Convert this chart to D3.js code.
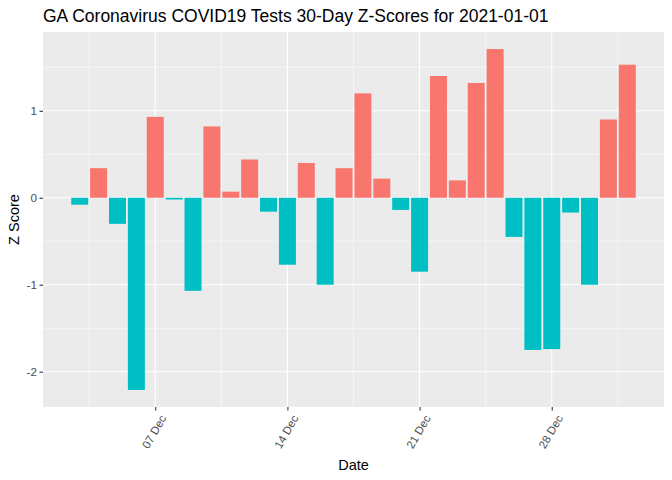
<!DOCTYPE html>
<html>
<head>
<meta charset="utf-8">
<script src="https://cdn.jsdelivr.net/npm/d3@7"></script>
<style>
  body { margin: 0; background: #fff; }
  text { font-family: "Liberation Sans", Arial, sans-serif; }
</style>
</head>
<body>
<script>
// one bar per day, 03 Dec 2020 .. 01 Jan 2021
var dates = ['2020-12-03','2020-12-04','2020-12-05','2020-12-06','2020-12-07','2020-12-08',
  '2020-12-09','2020-12-10','2020-12-11','2020-12-12','2020-12-13','2020-12-14','2020-12-15',
  '2020-12-16','2020-12-17','2020-12-18','2020-12-19','2020-12-20','2020-12-21','2020-12-22',
  '2020-12-23','2020-12-24','2020-12-25','2020-12-26','2020-12-27','2020-12-28','2020-12-29',
  '2020-12-30','2020-12-31','2021-01-01'];
var zScores = [-0.08, 0.34, -0.30, -2.21, 0.93, -0.02, -1.07, 0.82, 0.07, 0.44, -0.16, -0.77,
  0.40, -1.00, 0.34, 1.20, 0.22, -0.14, -0.85, 1.40, 0.20, 1.32, 1.71, -0.45, -1.75, -1.74,
  -0.17, -1.00, 0.90, 1.53];
var xTicks = ['2020-12-07','2020-12-14','2020-12-21','2020-12-28'];
var yTicks = [-2, -1, 0, 1];

var w = 672, h = 480;
var margin = {top: 32, right: 8, bottom: 73, left: 43};
var width = w - margin.left - margin.right;
var height = h - margin.top - margin.bottom;
var day = 864e5;
var parse = d3.utcParse('%Y-%m-%d');

var data = dates.map(function(d, i){ return {date: parse(d), z: zScores[i]}; });

var lo = +data[0].date - 0.45 * day, hi = +data[data.length - 1].date + 0.45 * day;
var padX = (hi - lo) * 0.05;
var x = d3.scaleUtc()
          .domain([new Date(lo - padX), new Date(hi + padX)])
          .range([0, width]);
var zmin = d3.min(zScores), zmax = d3.max(zScores);
var padY = (zmax - zmin) * 0.05;
var y = d3.scaleLinear()
          .domain([zmin - padY, zmax + padY])
          .range([height, 0]);

var svg = d3.select('body').append('svg')
            .attr('width', w)
            .attr('height', h);

svg.append('text')
    .attr('x', margin.left)
    .attr('y', 22)
    .style('font-size', '17.5px')
    .attr('fill', '#000')
    .text('GA Coronavirus COVID19 Tests 30-Day Z-Scores for 2021-01-01');

var chart = svg.append('g')
              .attr('transform', 'translate(' + margin.left + ',' + margin.top + ')');

chart.append('rect')
    .attr('width', width)
    .attr('height', height)
    .attr('fill', '#EBEBEB');

// minor grid
var majorX = xTicks.map(parse);
var minorX = [];
for (var i = 0; i <= majorX.length; i++) {
  var base = i < majorX.length ? +majorX[i] : +majorX[majorX.length - 1] + 7 * day;
  var m = new Date(base - 3.5 * day);
  if (x(m) > 0 && x(m) < width) minorX.push(m);
}
var minorY = [];
for (var j = 0; j < yTicks.length; j++) minorY.push(yTicks[j] - 0.5);
minorY.push(yTicks[yTicks.length - 1] + 0.5);
minorY = minorY.filter(function(v){ return y(v) > 0 && y(v) < height; });

chart.selectAll('.minorx').data(minorX).enter().append('line')
    .attr('x1', function(d){ return x(d); }).attr('x2', function(d){ return x(d); })
    .attr('y1', 0).attr('y2', height)
    .attr('stroke', '#fff').attr('stroke-width', 0.55);
chart.selectAll('.minory').data(minorY).enter().append('line')
    .attr('y1', function(d){ return y(d); }).attr('y2', function(d){ return y(d); })
    .attr('x1', 0).attr('x2', width)
    .attr('stroke', '#fff').attr('stroke-width', 0.55);
chart.selectAll('.majorx').data(majorX).enter().append('line')
    .attr('x1', function(d){ return x(d); }).attr('x2', function(d){ return x(d); })
    .attr('y1', 0).attr('y2', height)
    .attr('stroke', '#fff').attr('stroke-width', 1.1);
chart.selectAll('.majory').data(yTicks).enter().append('line')
    .attr('y1', function(d){ return y(d); }).attr('y2', function(d){ return y(d); })
    .attr('x1', 0).attr('x2', width)
    .attr('stroke', '#fff').attr('stroke-width', 1.1);

// bars
var bw = x(new Date(+data[0].date + 0.9 * day)) - x(data[0].date);
chart.selectAll('.bar')
    .data(data)
    .enter()
      .append('rect')
      .classed('bar', true)
      .attr('x', function(d){ return x(d.date) - bw / 2; })
      .attr('y', function(d){ return y(Math.max(0, d.z)); })
      .attr('width', bw)
      .attr('height', function(d){ return Math.abs(y(d.z) - y(0)); })
      .attr('fill', function(d){ return d.z > 0 ? '#F8766D' : '#00BFC4'; });

// axes
var xAxis = d3.axisBottom(x)
              .tickValues(majorX)
              .tickFormat(d3.utcFormat('%d %b'))
              .tickSize(3.5)
              .tickSizeOuter(0);
var yAxis = d3.axisLeft(y)
              .tickValues(yTicks)
              .tickFormat(function(d){ return String(d); })
              .tickSize(3.5)
              .tickSizeOuter(0);

var gx = chart.append('g')
    .attr('transform', 'translate(0,' + height + ')')
    .call(xAxis);
gx.select('.domain').remove();
gx.selectAll('line').attr('stroke', '#333').attr('stroke-width', 1.1);
gx.selectAll('text')
    .attr('fill', '#4D4D4D')
    .style('font-size', '11.5px')
    .attr('text-anchor', 'end')
    .attr('dy', null)
    .attr('y', 0)
    .attr('transform', 'translate(11,11) rotate(-60)');

var gy = chart.append('g').call(yAxis);
gy.select('.domain').remove();
gy.selectAll('line').attr('stroke', '#333').attr('stroke-width', 1.1);
gy.selectAll('text')
    .attr('fill', '#4D4D4D')
    .style('font-size', '11.7px')
    .attr('x', -6);

svg.append('text')
    .attr('x', margin.left + width / 2)
    .attr('y', 470)
    .attr('text-anchor', 'middle')
    .style('font-size', '14.5px')
    .text('Date');

svg.append('text')
    .attr('transform', 'translate(19,' + (margin.top + height / 2) + ') rotate(-90)')
    .attr('text-anchor', 'middle')
    .style('font-size', '14.5px')
    .text('Z Score');
</script>
</body>
</html>
